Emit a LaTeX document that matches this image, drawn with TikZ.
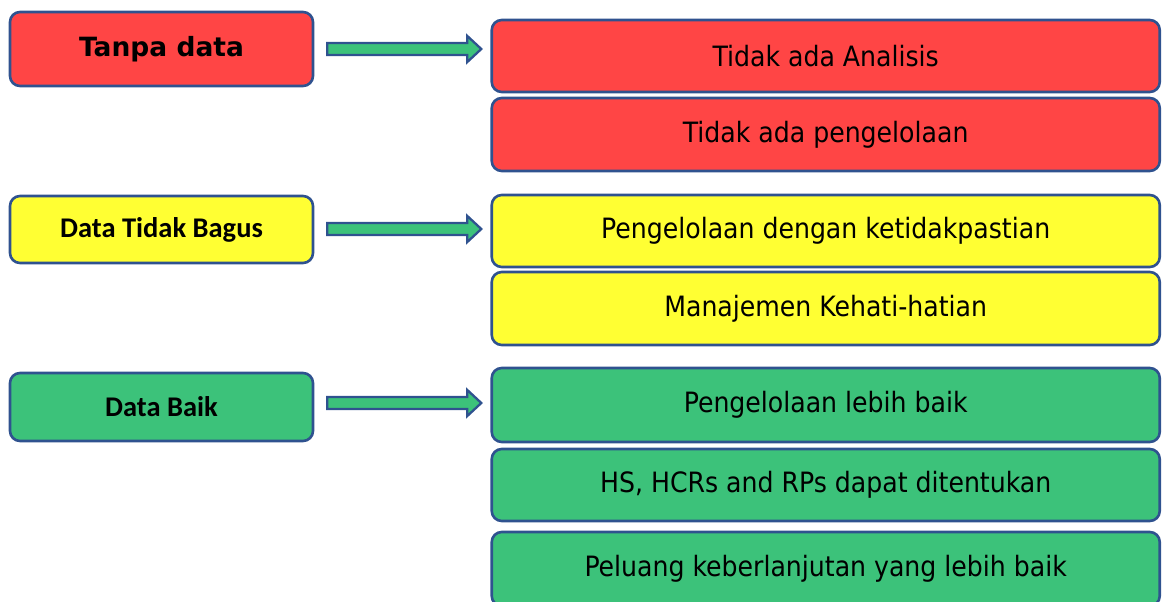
\documentclass[tikz,border=0pt]{standalone}
\usepackage{fontspec}
\usetikzlibrary{calc}
\newfontfamily\rfont{DejaVu Sans Condensed}
\newfontfamily\vfont{DejaVu Sans}
\newfontfamily\cfont{Carlito}
\definecolor{bred}{HTML}{FF4545}
\definecolor{byel}{HTML}{FFFF33}
\definecolor{bgrn}{HTML}{3CC27A}
\definecolor{bblue}{HTML}{2F528F}
\tikzset{
  box/.style={draw=bblue, line width=2.6pt, rounded corners=10pt, inner sep=0pt, align=center},
  lbox/.style={box, minimum width=303pt},
  rbox/.style={box, minimum width=668pt, font=\rfont\fontsize{28}{32}\selectfont},
  bigarrow/.style={draw=bblue, fill=bgrn, line width=2.3pt, line join=miter}
}
\begin{document}
\begin{tikzpicture}[x=1pt,y=-1pt]
\useasboundingbox (0,0) rectangle (1162,602);
\clip (0,0) rectangle (1162,602);
% left boxes
\node[lbox, fill=bred, minimum height=74pt, font=\vfont\bfseries\fontsize{26.5}{30}\selectfont] (l1) at (161.5,49) {Tanpa data};
\node[lbox, fill=byel, minimum height=67pt, font=\cfont\bfseries\fontsize{28.5}{32}\selectfont] (l2) at (161.5,229.5) {Data Tidak Bagus};
\node[lbox, fill=bgrn, minimum height=68pt, font=\cfont\bfseries\fontsize{28.5}{32}\selectfont] (l3) at (161.5,407) {Data Baik};
% right boxes
\node[rbox, fill=bred, minimum height=72pt] (r1) at (825.75,56) {Tidak ada Analisis};
\node[rbox, fill=bred, minimum height=73pt] (r2) at (825.75,134.5) {Tidak ada pengelolaan};
\node[rbox, fill=byel, minimum height=72pt] (r3) at (825.75,231) {Pengelolaan dengan ketidakpastian};
\node[rbox, fill=byel, minimum height=73pt] (r4) at (825.75,308.5) {Manajemen Kehati-hatian};
\node[rbox, fill=bgrn, minimum height=74pt] (r5) at (825.75,405) {Pengelolaan lebih baik};
\node[rbox, fill=bgrn, minimum height=72pt] (r6) at (825.75,485) {HS, HCRs and RPs dapat ditentukan};
\node[rbox, fill=bgrn, minimum height=74pt] (r7) at (825.75,569) {Peluang keberlanjutan yang lebih baik};
% arrows (block arrows from left box to right box)
\foreach \a/\b/\dy in {l1/r1/0, l2/r2/-0.5, l3/r5/-4}{
  \coordinate (s) at ($(\a.east)+(13,\dy)$);
  \coordinate (t) at ($(\a.east)+(167,\dy)$);
  \draw[bigarrow] ($(s)+(0,-6)$) -- ($(t)+(-14,-6)$) -- ($(t)+(-14,-13)$) -- (t)
     -- ($(t)+(-14,13)$) -- ($(t)+(-14,6)$) -- ($(s)+(0,6)$) -- cycle;
}
\end{tikzpicture}
\end{document}
